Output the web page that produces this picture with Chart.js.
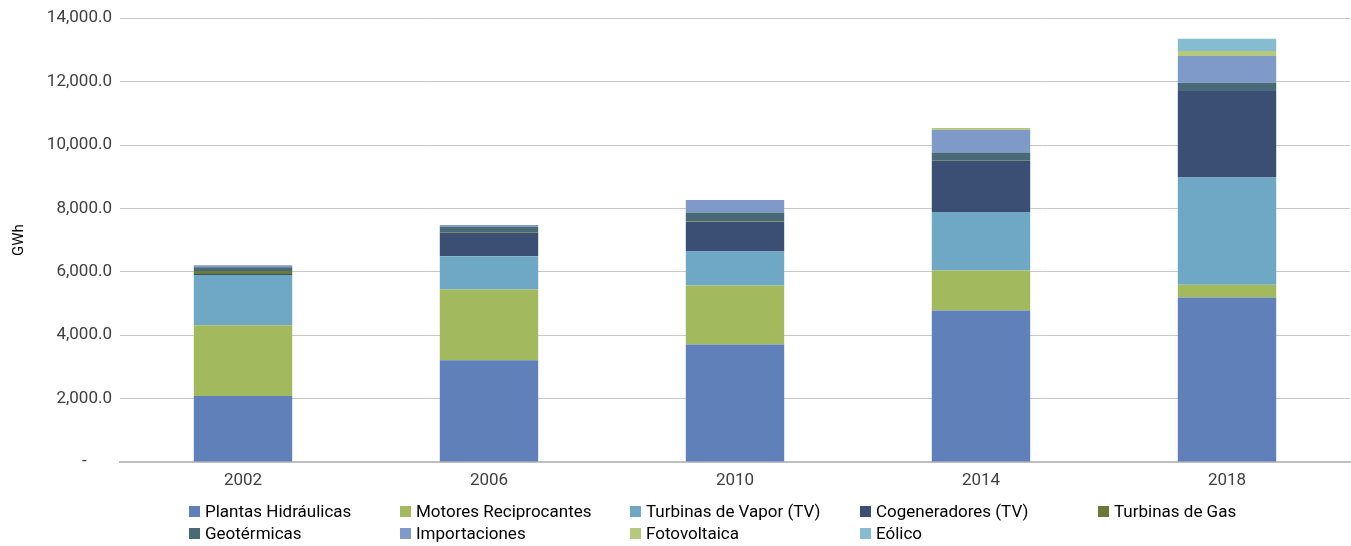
<!DOCTYPE html>
<html>
<head>
<meta charset="utf-8">
<script src="https://cdn.jsdelivr.net/npm/chart.js@4"></script>
<style>
  body { margin: 0; background: #fff; }
  #wrap { position: relative; width: 1351px; height: 546px; }
  #legend { position: absolute; left: 0; top: 500px; width: 1351px; font-family: Roboto, sans-serif; font-size: 17px; color: #000; }
  .item { position: absolute; white-space: nowrap; line-height: 22px; }
  .box { display: inline-block; width: 11px; height: 11px; margin-right: 5px; vertical-align: 0px; }
</style>
</head>
<body>
<div id="wrap">
  <canvas id="chart" width="1351" height="546"></canvas>
  <div id="legend"></div>
</div>
<script>
var years = ["2002", "2006", "2010", "2014", "2018"]

var hidraulicas = [2080, 3210, 3710, 4780, 5190]
var motores = [2230, 2230, 1860, 1260, 400]
var vapor = [1590, 1050, 1070, 1850, 3385]
var cogeneradores = [30, 745, 934, 1605, 2727]
var gas = [95, 20, 10, 5, 5]
var geotermicas = [115, 170, 290, 260, 260]
var importaciones = [65, 50, 390, 714, 840]
var fotovoltaica = [0, 0, 0, 60, 157]
var eolico = [0, 0, 0, 0, 387]

var yTicks = [0, 2000, 4000, 6000, 8000, 10000, 12000, 14000]

var series = [
    {label: "Plantas Hidráulicas", data: hidraulicas, color: "#6080ba"},
    {label: "Motores Reciprocantes", data: motores, color: "#a3b95e"},
    {label: "Turbinas de Vapor (TV)", data: vapor, color: "#6fa8c4"},
    {label: "Cogeneradores (TV)", data: cogeneradores, color: "#3b4f74"},
    {label: "Turbinas de Gas", data: gas, color: "#687a36"},
    {label: "Geotérmicas", data: geotermicas, color: "#486a78"},
    {label: "Importaciones", data: importaciones, color: "#7f9ac8"},
    {label: "Fotovoltaica", data: fotovoltaica, color: "#b4c97e"},
    {label: "Eólico", data: eolico, color: "#86bccf"}
]

// legend slots (column x, row)
var legendPos = [[189, 0], [400, 0], [630, 0], [860, 0], [1098, 0], [189, 1], [400, 1], [630, 1], [860, 1]]

var datasets = series.map(function(s) {
    return {
        label: s.label,
        data: s.data,
        backgroundColor: s.color,
        borderWidth: 0,
        categoryPercentage: 1,
        barPercentage: 0.4
    }
})

// accounting style: zero shows as a dash
function fmt(v) {
    if (v === 0) return "-      "
    return v.toLocaleString("en-US", {minimumFractionDigits: 1, maximumFractionDigits: 1})
}

var myChart = new Chart(document.getElementById("chart").getContext("2d"), {
    type: "bar",
    data: {labels: years, datasets: datasets},
    options: {
        responsive: false,
        animation: false,
        layout: {padding: {top: 11, right: 1, left: 0, bottom: 0}},
        plugins: {
            legend: {display: false},
            tooltip: {enabled: false}
        },
        scales: {
            x: {
                stacked: true,
                grid: {display: false},
                border: {color: "#bfbfbf", width: 2},
                ticks: {
                    color: "#404040",
                    font: {family: "Roboto", size: 17},
                    padding: 1
                },
                afterFit: function(s) { s.height = 84 }
            },
            y: {
                stacked: true,
                min: 0,
                max: 14000,
                afterBuildTicks: function(s) { s.ticks = yTicks.map(function(v) { return {value: v} }) },
                grid: {color: "#c8c8c8", lineWidth: 1, drawTicks: false},
                border: {display: false},
                title: {
                    display: true,
                    text: "GWh",
                    color: "#000",
                    font: {family: "Roboto", size: 15},
                    padding: {top: 10, bottom: 0}
                },
                ticks: {
                    color: "#404040",
                    font: {family: "Roboto", size: 17},
                    padding: 8,
                    callback: function(v) { return fmt(v) }
                },
                afterFit: function(s) { s.width = 120 }
            }
        }
    }
})

var legend = document.getElementById("legend")
series.forEach(function(s, i) {
    var el = document.createElement("div")
    el.className = "item"
    el.style.left = legendPos[i][0] + "px"
    el.style.top = (legendPos[i][1] * 22) + "px"
    var box = document.createElement("span")
    box.className = "box"
    box.style.background = s.color
    el.appendChild(box)
    el.appendChild(document.createTextNode(s.label))
    legend.appendChild(el)
})
</script>
</body>
</html>
